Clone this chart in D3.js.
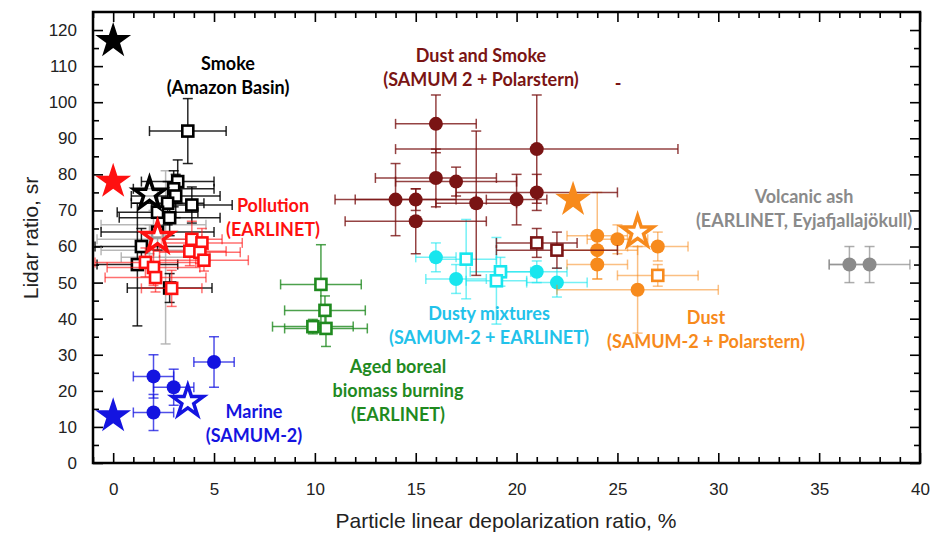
<!DOCTYPE html>
<html>
<head>
<meta charset="utf-8">
<script src="https://cdn.jsdelivr.net/npm/d3@7"></script>
<style>
  body { margin: 0; background: #fff; }
</style>
</head>
<body>
<div id="chart"></div>
<script>
// each point: [depol %, lidar ratio sr, x error, y error]
const smoke = [
  [3.7, 92, 1.9, 9], [3.2, 78, 1.8, 6], [3.0, 76, 2.0, 5], [3.1, 74, 2.2, 6],
  [3.9, 71.5, 2.0, 5], [2.7, 72, 1.8, 6], [2.2, 69.5, 2.0, 6], [2.8, 68, 2.5, 5],
  [2.2, 64, 2.8, 5], [1.4, 60, 2.3, 5], [1.2, 55, 2.0, 17], [2.8, 48.5, 2.1, 4]
];
const smokeGrey = [
  [2.0, 66, 2.6, 4], [1.8, 62, 2.6, 4], [2.6, 57, 2.2, 24], [1.8, 59, 2.4, 5]
];
const pollution = [
  [3.9, 62, 1.5, 5], [4.4, 61, 2.0, 4], [3.8, 58.7, 1.8, 4], [4.3, 58.4, 2.0, 3],
  [4.5, 56.2, 2.2, 3], [1.6, 55.6, 2.5, 4], [2.0, 54.2, 2.3, 5], [2.1, 51.4, 2.5, 4],
  [2.9, 48.4, 1.5, 5]
];
const marine = [
  [2.0, 24, 1.0, 6], [3.0, 21, 1.0, 5], [2.0, 14, 1.0, 5], [5.0, 28, 1.0, 7]
];
const aged = [
  [10.3, 49.5, 2.0, 11], [10.5, 42.3, 2.0, 4], [9.9, 37.8, 2.0, 2], [10.55, 37.3, 2.05, 5]
];
const dustSmoke = [
  [16.0, 94, 2.0, 8], [21.0, 87, 7.0, 15], [16.0, 79, 3.0, 8], [17.0, 78, 3.0, 4],
  [14.0, 73, 3.0, 10], [15.0, 73, 3.0, 3], [18.0, 72, 2.0, 20], [20.0, 73, 1.5, 7],
  [21.0, 75, 4.0, 5], [15.0, 67, 3.5, 9]
];
const dustSmokeOpen = [
  [21.0, 61, 2.0, 4], [22.0, 59, 3.0, 5]
];
const dustyFilled = [
  [16.0, 57, 1.0, 4], [17.0, 51, 1.5, 4], [21.0, 53, 1.5, 3], [22.0, 50, 1.5, 4]
];
const dustyOpen = [
  [17.5, 56.5, 1.5, 11], [19.2, 53, 1.5, 4], [19.0, 50.5, 1.5, 12]
];
const dustFilled = [
  [24.0, 63, 1.5, 12], [25.0, 62, 1.5, 4], [24.0, 59, 2.0, 4], [24.0, 55, 1.5, 4],
  [27.0, 60, 1.5, 4], [26.0, 48, 4.0, 12]
];
const dustOpen = [
  [27.0, 52, 2.0, 3]
];
const volcanic = [
  [36.5, 55, 1.0, 5], [37.5, 55, 2.0, 5]
];
const starsFilled = [
  ["black", 0, 117], ["pollution", 0, 78], ["marine", 0, 13], ["dust", 22.8, 73]
];
const starsOpen = [
  ["black", 1.8, 74.5], ["pollution", 2.2, 62.5], ["marine", 3.7, 17], ["dust", 26.0, 64]
];
const labels = [
  ["black", 228, 70, ["Smoke", "(Amazon Basin)"]],
  ["dustSmoke", 481, 62, ["Dust and Smoke", "(SAMUM 2 + Polarstern)"]],
  ["pollution", 273, 212, ["Pollution", "(EARLINET)"]],
  ["volcanic", 804, 203, ["Volcanic ash", "(EARLINET, Eyjafjallajökull)"]],
  ["dustyText", 489, 320, ["Dusty mixtures", "(SAMUM-2 + EARLINET)"]],
  ["dust", 706, 324, ["Dust", "(SAMUM-2 + Polarstern)"]],
  ["aged", 398, 373, ["Aged boreal", "biomass burning", "(EARLINET)"]],
  ["marine", 254, 418, ["Marine", "(SAMUM-2)"]]
];
const xTicks = [0, 5, 10, 15, 20, 25, 30, 35, 40];
const yTicks = [0, 10, 20, 30, 40, 50, 60, 70, 80, 90, 100, 110, 120];

const colors = {
  black: "#000000",
  grey: "#b0b0b0",
  pollution: "#ff1010",
  marine: "#1414e0",
  aged: "#1f8a1f",
  dustSmoke: "#7a1414",
  dusty: "#18e6ee",
  dustyText: "#22c2ea",
  dust: "#f78a1c",
  volcanic: "#8a8a8a"
};

const width = 935, height = 536;
const svg = d3.select("#chart").append("svg")
    .attr("width", width)
    .attr("height", height)
    .style("font-family", "'Liberation Sans', Arial, sans-serif");

const x = d3.scaleLinear().domain([-1, 40]).range([93, 920]);
const y = d3.scaleLinear().domain([0, 125]).range([463, 12]);

// axes, ticks on the inside
const minorX = d3.range(-1, 41, 1).filter(v => v % 5 !== 0);
const minorY = d3.range(5, 125, 10);

function styleAxis(g) {
  g.select(".domain").remove();
  g.selectAll("line").attr("stroke", "#000").attr("stroke-width", 1.6);
  g.selectAll("text").attr("fill", "#222").style("font-size", "17px");
}

svg.append("g").attr("transform", "translate(0,463)")
  .call(d3.axisBottom(x).tickValues(xTicks).tickSizeInner(-10).tickPadding(20).tickFormat(d3.format("d")))
  .call(styleAxis);
svg.append("g").attr("transform", "translate(0,463)")
  .call(d3.axisBottom(x).tickValues(minorX).tickSizeInner(-6).tickFormat(""))
  .call(styleAxis);
svg.append("g").attr("transform", "translate(0,12)")
  .call(d3.axisTop(x).tickValues(xTicks).tickSizeInner(-10).tickFormat(""))
  .call(styleAxis);
svg.append("g").attr("transform", "translate(0,12)")
  .call(d3.axisTop(x).tickValues(minorX).tickSizeInner(-6).tickFormat(""))
  .call(styleAxis);
svg.append("g").attr("transform", "translate(93,0)")
  .call(d3.axisLeft(y).tickValues(yTicks).tickSizeInner(-10).tickPadding(16))
  .call(styleAxis);
svg.append("g").attr("transform", "translate(93,0)")
  .call(d3.axisLeft(y).tickValues(minorY).tickSizeInner(-6).tickFormat(""))
  .call(styleAxis);
svg.append("g").attr("transform", "translate(920,0)")
  .call(d3.axisRight(y).tickValues(yTicks).tickSizeInner(-10).tickFormat(""))
  .call(styleAxis);
svg.append("g").attr("transform", "translate(920,0)")
  .call(d3.axisRight(y).tickValues(minorY).tickSizeInner(-6).tickFormat(""))
  .call(styleAxis);

svg.append("rect")
  .attr("x", 93).attr("y", 12)
  .attr("width", 920 - 93).attr("height", 463 - 12)
  .attr("fill", "none").attr("stroke", "#000").attr("stroke-width", 2.5);

svg.append("text")
  .attr("x", 506).attr("y", 528)
  .attr("text-anchor", "middle")
  .style("font-size", "21px").attr("fill", "#222")
  .text("Particle linear depolarization ratio, %");

svg.append("text")
  .attr("transform", "translate(38,238) rotate(-90)")
  .attr("text-anchor", "middle")
  .style("font-size", "21px").attr("fill", "#222")
  .text("Lidar ratio, sr");

const plot = svg.append("g");

function errorBars(data, color, opacity) {
  const g = plot.append("g")
      .attr("stroke", color).attr("stroke-opacity", opacity).attr("stroke-width", 1.5);
  data.forEach(d => {
    const cx = x(d[0]), cy = y(d[1]);
    const x0 = x(d[0] - d[2]), x1 = x(d[0] + d[2]);
    const y0 = y(d[1] - d[3]), y1 = y(d[1] + d[3]);
    g.append("line").attr("x1", x0).attr("x2", x1).attr("y1", cy).attr("y2", cy);
    g.append("line").attr("x1", cx).attr("x2", cx).attr("y1", y0).attr("y2", y1);
    [x0, x1].forEach(v => g.append("line").attr("x1", v).attr("x2", v).attr("y1", cy - 5).attr("y2", cy + 5));
    [y0, y1].forEach(v => g.append("line").attr("x1", cx - 5).attr("x2", cx + 5).attr("y1", v).attr("y2", v));
  });
}

function circles(data, color) {
  plot.append("g").selectAll("circle")
    .data(data).enter().append("circle")
    .attr("cx", d => x(d[0]))
    .attr("cy", d => y(d[1]))
    .attr("r", 7)
    .attr("fill", color);
}

function squares(data, color) {
  plot.append("g").selectAll("rect")
    .data(data).enter().append("rect")
    .attr("x", d => x(d[0]) - 5.5)
    .attr("y", d => y(d[1]) - 5.5)
    .attr("width", 11).attr("height", 11)
    .attr("fill", "#fff")
    .attr("stroke", color)
    .attr("stroke-width", 2.6);
}

errorBars(smokeGrey, colors.grey, 0.9);
errorBars(smoke, colors.black, 0.85);
squares(smoke, colors.black);
errorBars(pollution, colors.pollution, 0.6);
squares(pollution, colors.pollution);
errorBars(marine, colors.marine, 0.75);
circles(marine, colors.marine);
errorBars(aged, colors.aged, 0.8);
squares(aged, colors.aged);
errorBars(volcanic, colors.volcanic, 0.7);
circles(volcanic, colors.volcanic);
errorBars(dustyFilled, colors.dusty, 0.6);
errorBars(dustyOpen, colors.dusty, 0.6);
circles(dustyFilled, colors.dusty);
squares(dustyOpen, colors.dusty);
errorBars(dustFilled, colors.dust, 0.55);
errorBars(dustOpen, colors.dust, 0.55);
circles(dustFilled, colors.dust);
squares(dustOpen, colors.dust);
errorBars(dustSmoke, colors.dustSmoke, 0.8);
errorBars(dustSmokeOpen, colors.dustSmoke, 0.8);
circles(dustSmoke, colors.dustSmoke);
squares(dustSmokeOpen, colors.dustSmoke);

// stars
plot.append("g").selectAll("path")
  .data(starsOpen).enter().append("path")
  .attr("d", d3.symbol(d3.symbolStar, 300))
  .attr("transform", d => "translate(" + x(d[1]) + "," + y(d[2]) + ")")
  .attr("fill", "#fff").attr("fill-opacity", 0.6)
  .attr("stroke", d => colors[d[0]])
  .attr("stroke-width", 3.5);

plot.append("g").selectAll("path")
  .data(starsFilled).enter().append("path")
  .attr("d", d3.symbol(d3.symbolStar, 400))
  .attr("transform", d => "translate(" + x(d[1]) + "," + y(d[2]) + ")")
  .attr("fill", d => colors[d[0]]);

// group labels
const lab = svg.append("g")
    .style("font-family", "Lato, 'Open Sans', sans-serif")
    .style("font-weight", "bold")
    .style("font-size", "18px")
    .attr("text-anchor", "middle");
labels.forEach(l => {
  const t = lab.append("text").attr("fill", colors[l[0]]);
  l[3].forEach((line, i) => {
    t.append("tspan").attr("x", l[1]).attr("y", l[2] + i * 24).text(line);
  });
});
lab.append("text").attr("x", 618).attr("y", 90).attr("fill", colors.dustSmoke).text("-");
</script>
</body>
</html>
